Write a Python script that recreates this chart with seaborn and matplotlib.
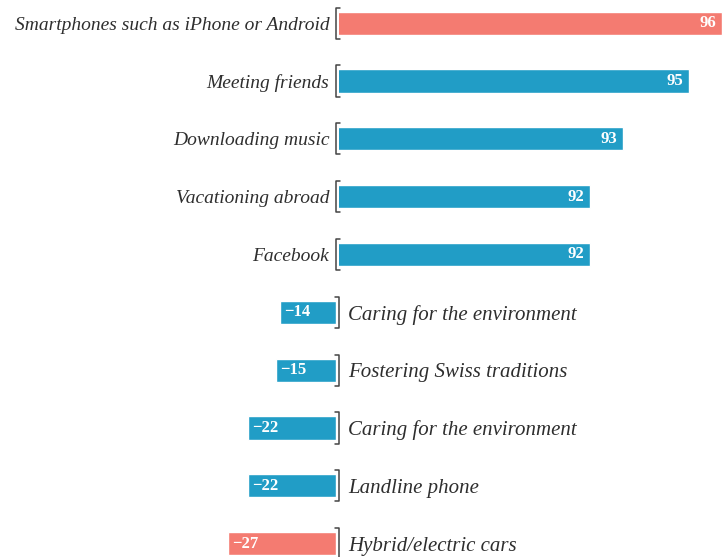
import pandas as pd
import seaborn as sns
import matplotlib.pyplot as plt
from matplotlib.transforms import blended_transform_factory

# data
pos_labels = ['Smartphones such as iPhone or Android', 'Meeting friends',
              'Downloading music', 'Vacationing abroad', 'Facebook']
pos_values = [96, 95, 93, 92, 92]
neg_labels = ['Caring for the environment', 'Fostering Swiss traditions',
              'Caring for the environment', 'Landline phone', 'Hybrid/electric cars']
neg_values = [-14, -15, -22, -22, -27]

coral = '#F47B71'
blue = '#219DC6'
pos_colors = [coral, blue, blue, blue, blue]
neg_colors = [blue, blue, blue, blue, coral]

pos_df = pd.DataFrame({'row': [str(i) for i in range(len(pos_values))], 'value': pos_values})
neg_df = pd.DataFrame({'row': [str(i) for i in range(len(neg_values))], 'value': neg_values})

sns.set_theme(style='white')
plt.rcParams['font.family'] = ['Liberation Serif', 'DejaVu Serif']

fig = plt.figure(figsize=(7.27, 5.57), dpi=100)
W, H = 727, 557
ax1 = fig.add_axes([339 / W, 0, 388 / W, 1])
ax2 = fig.add_axes([0, 0, 336 / W, 1])

text_col = '#2e2e2e'
br_col = '#444444'
row0, step = 23.2, 57.82
ylim = ((H - row0) / step, -row0 / step)

# positive panel
sns.barplot(data=pos_df, x='value', y='row', hue='row', palette=pos_colors,
            legend=False, width=0.4, saturation=1, ax=ax1)
ax1.set_xlim(84.4, 84.4 + 388 / 33)
ax1.set_ylim(*ylim)
ax1.set_yticks(range(len(pos_labels)))
ax1.set_yticklabels(pos_labels, fontstyle='italic', fontsize=14, color=text_col)
ax1.tick_params(axis='y', length=0, pad=7)
for i, v in enumerate(pos_values):
    ax1.annotate(str(v), (v, i), xytext=(-4, 0), textcoords='offset points',
                 ha='right', va='center', color='white', fontsize=12, fontweight='bold')
tr1 = blended_transform_factory(ax1.transAxes, ax1.transData)
bx = -3.5 / 388
for i in range(len(pos_values)):
    ax1.plot([0.002, bx, bx, 0.002], [i - 0.27, i - 0.27, i + 0.27, i + 0.27],
             transform=tr1, color=br_col, lw=1.1, clip_on=False)

# negative panel
sns.barplot(data=neg_df, x='value', y='row', hue='row', palette=neg_colors,
            legend=False, width=0.4, saturation=1, ax=ax2)
ax2.set_xlim(-336 / 4, 0)
ax2.set_ylim(ylim[0] - 5, ylim[1] - 5)
ax2.yaxis.tick_right()
ax2.set_yticks(range(len(neg_labels)))
ax2.set_yticklabels(neg_labels, fontstyle='italic', fontsize=15, color=text_col)
ax2.tick_params(axis='y', length=0, pad=9)
for i, v in enumerate(neg_values):
    ax2.annotate('\u2212' + str(abs(v)), (v, i), xytext=(3, 0), textcoords='offset points',
                 ha='left', va='center', color='white', fontsize=12, fontweight='bold')
tr2 = blended_transform_factory(ax2.transAxes, ax2.transData)
bx2 = 1 + 2.5 / 336
for i in range(len(neg_values)):
    ax2.plot([0.998, bx2, bx2, 0.998], [i - 0.27, i - 0.27, i + 0.27, i + 0.27],
             transform=tr2, color=br_col, lw=1.1, clip_on=False)

for ax in (ax1, ax2):
    ax.set_facecolor('none')
    ax.set_xlabel('')
    ax.set_ylabel('')
    ax.set_xticks([])
    sns.despine(ax=ax, left=True, bottom=True)

fig.savefig('out.png', dpi=100)
